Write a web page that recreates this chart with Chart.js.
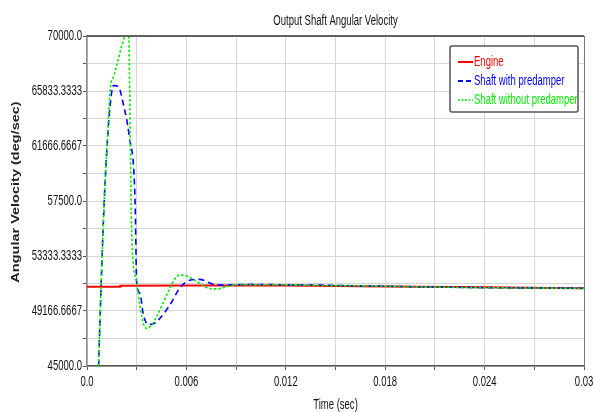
<!DOCTYPE html>
<html>
<head>
<meta charset="utf-8">
<script src="https://cdn.jsdelivr.net/npm/chart.js@4/dist/chart.umd.min.js"></script>
<style>
  html, body { margin: 0; padding: 0; background: #ffffff; }
  #wrap { width: 593px; height: 412px; }
</style>
</head>
<body>
<div id="wrap"><canvas id="c" width="593" height="412"></canvas></div>
<script>
// ---- Data ----
const chartTitle = 'Output Shaft Angular Velocity';
const xTitle = 'Time (sec)';
const yTitle = 'Angular Velocity (deg/sec)';
const seriesNames = ['Engine', 'Shaft with predamper', 'Shaft without predamper'];

const engineTime = [0, 0.002, 0.00201, 0.006, 0.012, 0.018, 0.024, 0.028, 0.030];
const engineVals = [51000, 51000, 51080, 51090, 51100, 51030, 50960, 50910, 50890];

const withTime = [0.0007, 0.00085, 0.00104, 0.00125, 0.0014, 0.0016, 0.0019, 0.0022, 0.00255, 0.0029, 0.0030,
                  0.0032, 0.0034, 0.0037, 0.0040, 0.0043, 0.0050, 0.0056, 0.0062, 0.0068, 0.0076, 0.0082,
                  0.0090, 0.0100, 0.0120, 0.0140, 0.0160, 0.0180, 0.0200, 0.0220, 0.0240, 0.0260, 0.0280, 0.0300];
const withVals = [45000, 51000, 57500, 62400, 64800, 66250, 66150, 64800, 62400, 57600, 51300,
                  50500, 48900, 48150, 48200, 48480, 49620, 50900, 51500, 51560, 51200, 51130,
                  51150, 51180, 51150, 51130, 51080, 51040, 51000, 50970, 50940, 50920, 50910, 50890];

const withoutTime = [0.0007, 0.00085, 0.00104, 0.00125, 0.0014, 0.0016, 0.0025, 0.0027, 0.0030, 0.0032,
                     0.0034, 0.0036, 0.0039, 0.0042, 0.0046, 0.0050, 0.0053, 0.0056, 0.0061, 0.0068,
                     0.0072, 0.0076, 0.0080, 0.0084, 0.0092, 0.0100, 0.0120, 0.0140, 0.0160, 0.0180,
                     0.0200, 0.0220, 0.0240, 0.0260, 0.0280, 0.0300];
const withoutVals = [45000, 51000, 57500, 62600, 66000, 66900, 70300, 55000, 51260, 49500,
                     48230, 47850, 48100, 48740, 49800, 50880, 51600, 51890, 51770, 51260,
                     50950, 50840, 50860, 51010, 51180, 51150, 51150, 51100, 51080, 51040,
                     51000, 50960, 50930, 50910, 50900, 50880];

const yTickVals = [45000, 47083.3333, 49166.6667, 51250, 53333.3333, 55416.6667, 57500,
                   59583.3333, 61666.6667, 63750, 65833.3333, 67916.6667, 70000];
const yTickLabels = ['45000.0', '', '49166.6667', '', '53333.3333', '', '57500.0',
                     '', '61666.6667', '', '65833.3333', '', '70000.0'];
const xTickVals = [0, 0.003, 0.006, 0.009, 0.012, 0.015, 0.018, 0.021, 0.024, 0.027, 0.030];
const xTickLabels = ['0.0', '', '0.006', '', '0.012', '', '0.018', '', '0.024', '', '0.03'];

// ---- Build ----
const toPts = (t, v) => t.map((x, i) => ({ x: x, y: v[i] }));
const colors = ['#ff0000', '#0000ff', '#00ee00'];
const FONT = '"Liberation Sans", Arial, sans-serif';
const NARROW = 0.68; // the reference text is horizontally condensed

function narrowText(ctx, str, x, y, align, font, color) {
  ctx.save();
  ctx.translate(x, y);
  ctx.scale(NARROW, 1);
  ctx.font = font;
  ctx.fillStyle = color;
  ctx.textAlign = align;
  ctx.textBaseline = 'middle';
  ctx.fillText(str, 0, 0);
  ctx.restore();
}

const overlay = {
  id: 'overlay',
  afterDraw(chart) {
    const ctx = chart.ctx;
    const a = chart.chartArea;
    const xs = chart.scales.x, ys = chart.scales.y;
    ctx.save();
    // frame top/right
    ctx.strokeStyle = '#333';
    ctx.lineWidth = 1.5;
    ctx.beginPath();
    ctx.moveTo(a.left, a.top); ctx.lineTo(a.right, a.top);
    ctx.stroke();
    ctx.strokeStyle = '#777';
    ctx.lineWidth = 1;
    ctx.beginPath();
    ctx.moveTo(a.right + 0.5, a.top); ctx.lineTo(a.right + 0.5, a.bottom);
    ctx.stroke();

    // tick labels (condensed)
    const tf = '14px ' + FONT;
    yTickVals.forEach((v, i) => {
      if (yTickLabels[i]) narrowText(ctx, yTickLabels[i], a.left - 5, ys.getPixelForValue(v), 'right', tf, '#111');
    });
    xTickVals.forEach((v, i) => {
      if (xTickLabels[i]) narrowText(ctx, xTickLabels[i], xs.getPixelForValue(v), 382, 'center', tf, '#111');
    });

    // titles
    narrowText(ctx, chartTitle, (a.left + a.right) / 2, 21, 'center', '14px ' + FONT, '#111');
    narrowText(ctx, xTitle, (a.left + a.right) / 2, 405, 'center', '14px ' + FONT, '#111');
    ctx.save();
    ctx.translate(16, 192);
    ctx.rotate(-Math.PI / 2);
    ctx.scale(1, 0.72);
    ctx.font = 'bold 14.5px ' + FONT;
    ctx.fillStyle = '#222';
    ctx.textAlign = 'center';
    ctx.textBaseline = 'middle';
    ctx.fillText(yTitle, 0, 0);
    ctx.restore();

    // legend box
    const bx = 450, by = 46, bw = 128, bh = 66;
    ctx.fillStyle = '#ffffff';
    ctx.strokeStyle = '#555';
    ctx.lineWidth = 1.5;
    ctx.beginPath();
    if (ctx.roundRect) ctx.roundRect(bx, by, bw, bh, 2); else ctx.rect(bx, by, bw, bh);
    ctx.fill();
    ctx.stroke();
    const dashes = [[], [5, 3], [2, 1.5]];
    const widths = [2, 1.8, 1.5];
    const rows = [62, 81, 100];
    seriesNames.forEach((name, i) => {
      ctx.strokeStyle = colors[i];
      ctx.lineWidth = widths[i];
      ctx.setLineDash(dashes[i]);
      ctx.beginPath();
      ctx.moveTo(458, rows[i]); ctx.lineTo(473, rows[i]);
      ctx.stroke();
      ctx.setLineDash([]);
      narrowText(ctx, name, 474, rows[i], 'left', '14px ' + FONT, colors[i]);
    });
    ctx.restore();
  }
};

new Chart(document.getElementById('c'), {
  type: 'line',
  data: {
    datasets: [
      { label: seriesNames[0], data: toPts(engineTime, engineVals), borderColor: colors[0],
        borderWidth: 2, order: 2, tension: 0 },
      { label: seriesNames[1], data: toPts(withTime, withVals), borderColor: colors[1],
        borderWidth: 1.6, borderDash: [6, 4], order: 1, cubicInterpolationMode: 'monotone' },
      { label: seriesNames[2], data: toPts(withoutTime, withoutVals), borderColor: colors[2],
        borderWidth: 1.6, borderDash: [2.5, 2], order: 0, cubicInterpolationMode: 'monotone' }
    ]
  },
  options: {
    responsive: false,
    animation: false,
    devicePixelRatio: 1,
    layout: { padding: { top: 36, right: 9, left: 0, bottom: 0 } },
    elements: { point: { radius: 0 } },
    plugins: { legend: { display: false }, title: { display: false }, tooltip: { enabled: false } },
    scales: {
      x: {
        type: 'linear', min: 0, max: 0.03,
        afterBuildTicks(s) { s.ticks = xTickVals.map(v => ({ value: v })); },
        afterFit(s) { s.height = 46; },
        ticks: { display: false, autoSkip: false, maxRotation: 0 },
        grid: { color: '#d6d6d6', lineWidth: 1, tickLength: 4, tickColor: '#555' },
        border: { color: '#555', width: 1.5 }
      },
      y: {
        type: 'linear', min: 45000, max: 70000,
        afterBuildTicks(s) { s.ticks = yTickVals.map(v => ({ value: v })); },
        afterFit(s) { s.width = 87; },
        ticks: { display: false, autoSkip: false },
        grid: { color: '#d6d6d6', lineWidth: 1, tickLength: 4, tickColor: '#555' },
        border: { color: '#888', width: 1.5 }
      }
    }
  },
  plugins: [overlay]
});
</script>
</body>
</html>
